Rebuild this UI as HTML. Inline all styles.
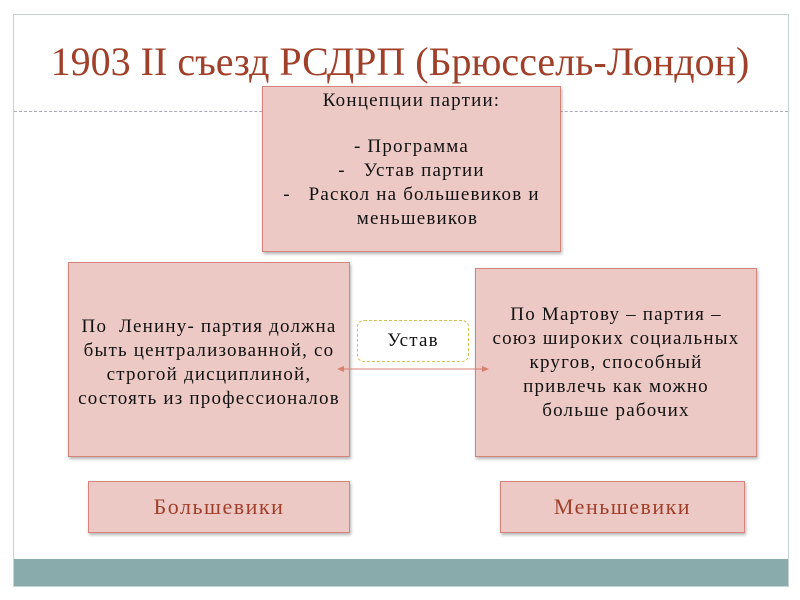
<!DOCTYPE html>
<html><head><meta charset="utf-8"><style>
body{margin:0;width:800px;height:600px;background:#fff;position:relative;overflow:hidden;font-family:"Liberation Serif",serif;}
.a{position:absolute;}
.box{position:absolute;background:#ecc9c5;border:1px solid #d4847a;box-shadow:1px 2px 3px rgba(0,0,0,0.3);box-sizing:border-box;}
.t{position:absolute;left:0;width:100%;text-align:center;font-size:19px;letter-spacing:1.2px;color:#111;white-space:nowrap;line-height:24px;}
</style></head><body>
<div class="a" style="left:13px;top:14px;width:776px;height:573px;border:1px solid #c5d3d3;box-sizing:border-box;"></div>
<div class="a" style="left:14px;top:559px;width:774px;height:27px;background:#8aabab;"></div>
<div class="a" style="left:14px;top:111px;width:774px;border-top:1px dashed #aab;"></div>
<div class="a" style="left:0;width:800px;top:38px;text-align:center;font-size:40px;color:#a0402a;white-space:nowrap;">1903 II съезд РСДРП (Брюссель-Лондон)</div>

<div class="box" style="left:262px;top:86px;width:299px;height:166px;">
<div class="t" style="top:2px;">Концепции партии:</div>
<div class="t" style="top:48px;">- Программа</div>
<div class="t" style="top:72px;">-&nbsp;&nbsp; Устав партии</div>
<div class="t" style="top:96px;">-&nbsp;&nbsp; Раскол на большевиков и</div>
<div class="t" style="top:120px;padding-left:12px;box-sizing:border-box;">меньшевиков</div>
</div>

<div class="box" style="left:68px;top:262px;width:282px;height:195px;">
<div class="t" style="top:52px;">По&nbsp; Ленину- партия должна</div>
<div class="t" style="top:76px;">быть централизованной, со</div>
<div class="t" style="top:100px;">строгой дисциплиной,</div>
<div class="t" style="top:124px;">состоять из профессионалов</div>
</div>

<div class="box" style="left:475px;top:268px;width:282px;height:189px;">
<div class="t" style="top:34px;">По Мартову – партия –</div>
<div class="t" style="top:58px;">союз широких социальных</div>
<div class="t" style="top:82px;">кругов, способный</div>
<div class="t" style="top:106px;">привлечь как можно</div>
<div class="t" style="top:130px;">больше рабочих</div>
</div>

<div class="a" style="left:357px;top:320px;width:112px;height:42px;border:1.5px dashed #d4c050;border-radius:7px;box-sizing:border-box;background:#fff;">
<div class="t" style="top:8px;">Устав</div></div>

<svg class="a" style="left:0;top:0" width="800" height="600">
<line x1="340" y1="369" x2="486" y2="369" stroke="#d88070" stroke-width="1"/>
<polygon points="337,369 344,366 344,372" fill="#d88070"/>
<polygon points="489,369 482,366 482,372" fill="#d88070"/>
</svg>

<div class="box" style="left:88px;top:481px;width:262px;height:52px;">
<div class="t" style="top:13px;font-size:22px;letter-spacing:1.5px;color:#a0402a;">Большевики</div></div>
<div class="box" style="left:500px;top:481px;width:245px;height:52px;">
<div class="t" style="top:13px;font-size:22px;letter-spacing:1.5px;color:#a0402a;">Меньшевики</div></div>
</body></html>
